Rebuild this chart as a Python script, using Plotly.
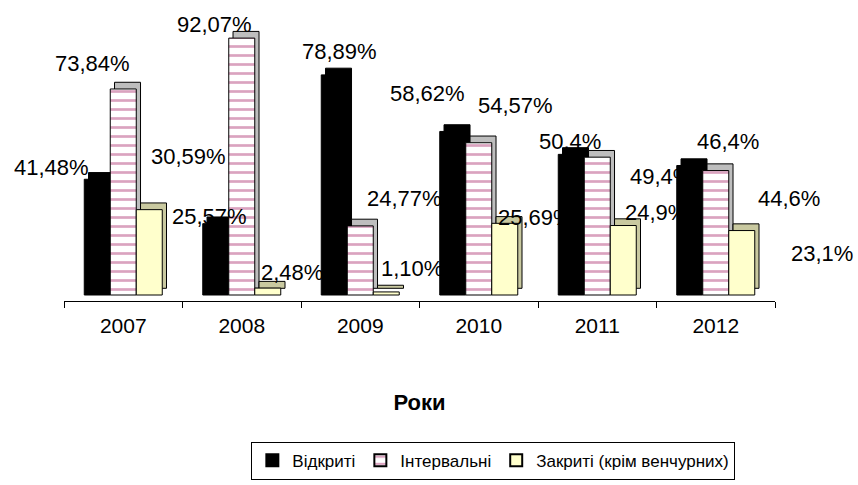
import plotly.graph_objects as go

years = ["2007", "2008", "2009", "2010", "2011", "2012"]
vidkryti = [41.48, 25.57, 78.89, 58.62, 50.4, 46.4]
intervalni = [73.84, 92.07, 24.77, 54.57, 49.4, 44.6]
zakryti = [30.59, 2.48, 1.10, 25.69, 24.9, 23.1]

vidkryti_text = ["41,48%", "25,57%", "78,89%", "58,62%", "50,4%", "46,4%"]
intervalni_text = ["73,84%", "92,07%", "24,77%", "54,57%", "49,4%", "44,6%"]
zakryti_text = ["30,59%", "2,48%", "1,10%", "25,69%", "24,9%", "23,1%"]

series_names = ["Відкриті", "Інтервальні", "Закриті (крім венчурних)"]

# label pixel shifts (style: where the original chart placed its labels)
shift_v = [(-72, 12), (-32, 7), (-21, 23), (-51, 38), (-27, 13), (12, 24)]
shift_i = [(-31, 25), (-27, 14), (44, 27), (37, 37), (64, -19), (73, -28)]
shift_z = [(65, 53), (50, 16), (52, 23), (57, 6), (59, 13), (106, -23)]

FONT = "Arial, Liberation Sans, sans-serif"
W = 0.2194           # bar width (category units)
DX = 0.036           # 3D depth, x (category units)
DY = 2.4             # 3D depth, y (value units)

fig = go.Figure()

specs = [
    (vidkryti, series_names[0], -0.329, dict(color="black"), "black"),
    (intervalni, series_names[1], -0.1097,
     dict(color="white", pattern=dict(shape="-", fgcolor="#B5477F", bgcolor="white",
                                      size=9, solidity=0.3)), "#BEBEBE"),
    (zakryti, series_names[2], 0.1097, dict(color="#FFFFCC"), "#C9C9A0"),
]

for vals, name, off, mk, depth_col in specs:
    fig.add_trace(go.Bar(
        x=years, y=vals, base=DY, offset=off + DX, width=W,
        marker=dict(color=depth_col, line=dict(color="black", width=1)),
        showlegend=False, hoverinfo="skip"))
    fig.add_trace(go.Bar(
        x=years, y=vals, name=name, offset=off, width=W,
        marker=dict(**mk, line=dict(color="black", width=1))))

annotations = []
for vals, texts, shifts in [(vidkryti, vidkryti_text, shift_v),
                            (intervalni, intervalni_text, shift_i),
                            (zakryti, zakryti_text, shift_z)]:
    for i, (v, t, (xs, ys)) in enumerate(zip(vals, texts, shifts)):
        annotations.append(dict(
            x=i, y=v, xref="x", yref="y", text=t, showarrow=False,
            xanchor="center", yanchor="middle", xshift=xs, yshift=ys,
            font=dict(family=FONT, size=22, color="black")))

fig.update_layout(
    width=858, height=485,
    margin=dict(l=64, r=83, t=15, b=184, autoexpand=False),
    paper_bgcolor="white", plot_bgcolor="white",
    barmode="overlay",
    font=dict(family=FONT, size=22, color="black"),
    annotations=annotations,
    xaxis=dict(
        type="category", categoryorder="array", categoryarray=years,
        range=[-0.5, len(years) - 0.5], autorange=False, automargin=False,
        showline=True, linecolor="black", linewidth=1,
        ticks="outside", ticklen=6, tickcolor="black", tickson="boundaries",
        ticklabelstandoff=6,
        tickfont=dict(family=FONT, size=21, color="black"),
        showgrid=False, zeroline=False,
        title=dict(text="<b>Роки</b>", font=dict(family=FONT, size=22, color="black"),
                   standoff=58),
    ),
    yaxis=dict(visible=False, range=[-2.15, 100.35], autorange=False, automargin=False,
               showgrid=False, zeroline=False),
    legend=dict(
        orientation="h", xref="container", yref="container",
        x=0.575, xanchor="center", y=0.05, yanchor="middle",
        bordercolor="black", borderwidth=1, bgcolor="white",
        font=dict(family=FONT, size=17, color="black"),
        itemsizing="constant", traceorder="normal", itemwidth=30,
    ),
)

fig.write_html("out.html", config={"displayModeBar": False},
               post_script="document.body.style.margin='0';document.body.style.overflow='hidden';")
